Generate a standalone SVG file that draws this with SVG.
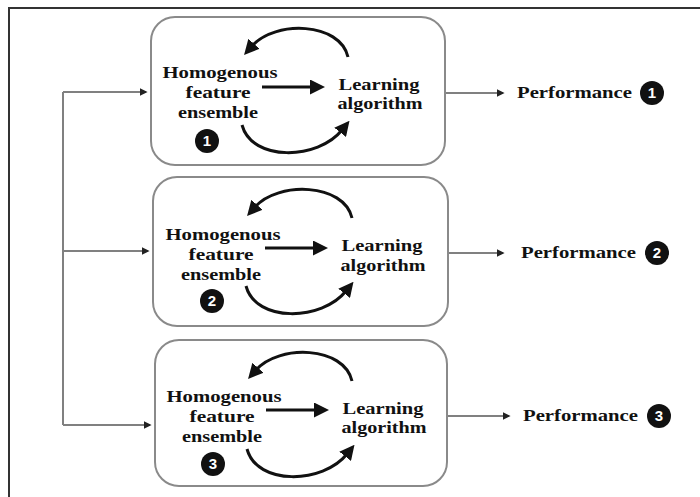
<svg xmlns="http://www.w3.org/2000/svg" width="700" height="497" viewBox="0 0 700 497">
<style>
.frame{stroke:#333;stroke-width:2;fill:none}
.box{fill:#fff;stroke:#8a8a8a;stroke-width:2}
.t{font-family:"Liberation Serif","Times New Roman",serif;font-weight:bold;font-size:17px;fill:#111;text-anchor:middle}
.tp{font-family:"Liberation Serif","Times New Roman",serif;font-weight:bold;font-size:17px;fill:#111}
.num{font-family:"Liberation Sans",Arial,sans-serif;font-weight:bold;font-size:15px;fill:#fff;text-anchor:middle}
.thick{stroke:#111;stroke-width:3;fill:none}
.thin{stroke:#808080;stroke-width:2;fill:none}
</style>
<defs>
<marker id="ah" viewBox="0 0 10 10" refX="2" refY="5" markerWidth="5" markerHeight="5" orient="auto" markerUnits="strokeWidth">
<path d="M0,0 L10,5 L0,10 Z" fill="#111"/>
</marker>
<marker id="as" viewBox="0 0 10 10" refX="8" refY="5" markerWidth="4" markerHeight="4" orient="auto" markerUnits="strokeWidth">
<path d="M0,0 L10,5 L0,10 Z" fill="#222"/>
</marker>
</defs>
<rect width="700" height="497" fill="#fff"/>
<path class="frame" d="M9,497 V8 H700"/>

<g id="connectors">
<path class="thin" d="M63,92 V425"/>
<path class="thin" d="M63,92 H146" marker-end="url(#as)"/>
<path class="thin" d="M63,251 H148" marker-end="url(#as)"/>
<path class="thin" d="M63,425 H150" marker-end="url(#as)"/>
<path class="thin" d="M445,93 H503" marker-end="url(#as)"/>
<path class="thin" d="M448,253 H503" marker-end="url(#as)"/>
<path class="thin" d="M447,416 H509" marker-end="url(#as)"/>
</g>

<g id="box1">
<rect class="box" x="151" y="17" width="294" height="148" rx="24"/>
<text class="t" x="220" y="78" textLength="115" lengthAdjust="spacingAndGlyphs">Homogenous</text>
<text class="t" x="218" y="98" textLength="65" lengthAdjust="spacingAndGlyphs">feature</text>
<text class="t" x="218" y="118" textLength="80" lengthAdjust="spacingAndGlyphs">ensemble</text>
<text class="t" x="379" y="90" textLength="81" lengthAdjust="spacingAndGlyphs">Learning</text>
<text class="t" x="380" y="109" textLength="85" lengthAdjust="spacingAndGlyphs">algorithm</text>
<path class="thick" d="M262,87 H313" marker-end="url(#ah)"/>
<path class="thick" d="M348,57 C340,22 275,20 252,46" marker-end="url(#ah)"/>
<path class="thick" d="M242,125 C252,162 318,160 342,130" marker-end="url(#ah)"/>
<circle cx="207" cy="141" r="12" fill="#111"/>
<text class="num" x="207" y="146">1</text>
</g>

<g id="box2">
<rect class="box" x="153" y="177" width="295" height="149" rx="24"/>
<text class="t" x="223" y="240" textLength="115" lengthAdjust="spacingAndGlyphs">Homogenous</text>
<text class="t" x="221" y="260" textLength="65" lengthAdjust="spacingAndGlyphs">feature</text>
<text class="t" x="221" y="280" textLength="80" lengthAdjust="spacingAndGlyphs">ensemble</text>
<text class="t" x="382" y="251" textLength="81" lengthAdjust="spacingAndGlyphs">Learning</text>
<text class="t" x="383" y="271" textLength="85" lengthAdjust="spacingAndGlyphs">algorithm</text>
<path class="thick" d="M265,248 H316" marker-end="url(#ah)"/>
<path class="thick" d="M352,218 C344,183 278,181 255,207" marker-end="url(#ah)"/>
<path class="thick" d="M246,286 C256,323 322,321 346,291" marker-end="url(#ah)"/>
<circle cx="212" cy="301" r="12" fill="#111"/>
<text class="num" x="212" y="306">2</text>
</g>

<g id="box3">
<rect class="box" x="155" y="340" width="292" height="146" rx="24"/>
<text class="t" x="224" y="402" textLength="115" lengthAdjust="spacingAndGlyphs">Homogenous</text>
<text class="t" x="222" y="422" textLength="65" lengthAdjust="spacingAndGlyphs">feature</text>
<text class="t" x="222" y="442" textLength="80" lengthAdjust="spacingAndGlyphs">ensemble</text>
<text class="t" x="383" y="414" textLength="81" lengthAdjust="spacingAndGlyphs">Learning</text>
<text class="t" x="384" y="433" textLength="85" lengthAdjust="spacingAndGlyphs">algorithm</text>
<path class="thick" d="M266,410 H317" marker-end="url(#ah)"/>
<path class="thick" d="M352,381 C344,346 279,344 256,370" marker-end="url(#ah)"/>
<path class="thick" d="M247,449 C257,486 323,484 347,454" marker-end="url(#ah)"/>
<circle cx="213" cy="464" r="12" fill="#111"/>
<text class="num" x="213" y="469">3</text>
</g>

<g id="perf1">
<text class="tp" x="517" y="98" textLength="115" lengthAdjust="spacingAndGlyphs">Performance</text>
<circle cx="652" cy="93" r="12" fill="#111"/>
<text class="num" x="652" y="98">1</text>
</g>
<g id="perf2">
<text class="tp" x="521" y="258" textLength="115" lengthAdjust="spacingAndGlyphs">Performance</text>
<circle cx="657" cy="253" r="12" fill="#111"/>
<text class="num" x="657" y="258">2</text>
</g>
<g id="perf3">
<text class="tp" x="523" y="421" textLength="115" lengthAdjust="spacingAndGlyphs">Performance</text>
<circle cx="659" cy="416" r="12" fill="#111"/>
<text class="num" x="659" y="421">3</text>
</g>
</svg>
